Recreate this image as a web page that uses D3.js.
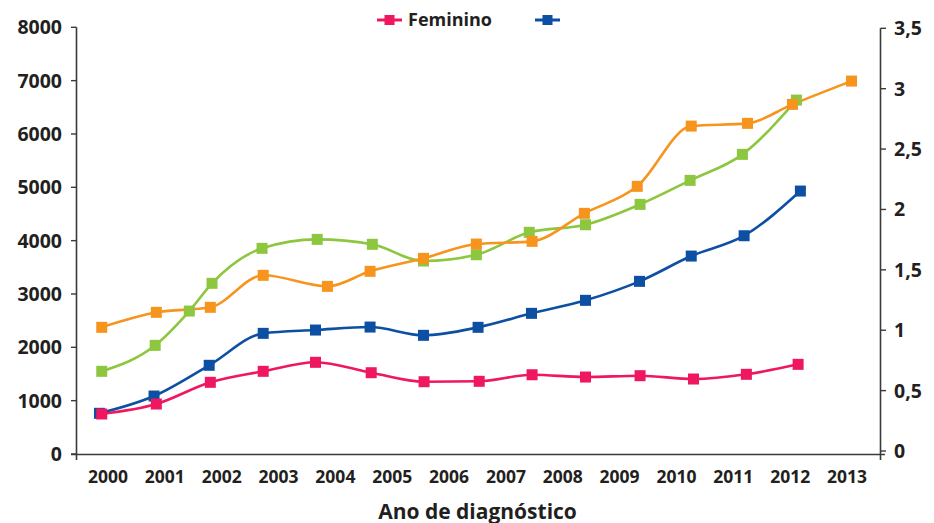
<!DOCTYPE html>
<html><head><meta charset="utf-8">
<script src="https://cdn.jsdelivr.net/npm/d3@7"></script>
<style>
body{margin:0;background:#fff;}
text{font-family:"Open Sans","Noto Sans",sans-serif;font-weight:700;fill:#231f20;}
</style></head>
<body><svg id="c" width="934" height="523"></svg>
<script>
const years = [2000,2001,2002,2003,2004,2005,2006,2007,2008,2009,2010,2011,2012,2013];
const leftTicks = [0,1000,2000,3000,4000,5000,6000,7000,8000];
const rightTicks = [0,0.5,1,1.5,2,2.5,3,3.5];
const rightLabels = ["0","0,5","1","1,5","2","2,5","3","3,5"];
const xTitle = "Ano de diagnóstico";
const legendNames = ["Feminino",""];

// marker positions (fractional year positions as drawn) and values
const orangeX = [1999.89,2000.85,2001.80,2002.73,2003.86,2004.61,2005.55,2006.48,2007.46,2008.38,2009.31,2010.26,2011.25,2012.04,2013.08];
const orangeV = [2375,2656,2750,3350,3143,3425,3668,3936,3987,4512,5018,6148,6199,6555,6992];
const greenX = [1999.89,2000.83,2001.43,2001.83,2002.71,2003.68,2004.65,2005.55,2006.48,2007.41,2008.40,2009.36,2010.24,2011.16,2012.11];
const greenV = [1550,2037,2680,3200,3856,4024,3931,3618,3736,4156,4298,4680,5130,5618,6635];
const blueX = [1999.85,2000.81,2001.78,2002.73,2003.65,2004.61,2005.55,2006.51,2007.45,2008.40,2009.35,2010.26,2011.19,2012.18];
const blueV = [763,1087,1663,2262,2324,2380,2225,2375,2637,2881,3237,3711,4092,4930];
const pinkX = [1999.89,2000.85,2001.80,2002.73,2003.65,2004.63,2005.56,2006.53,2007.46,2008.40,2009.36,2010.30,2011.23,2012.14];
const pinkV = [750,937,1344,1550,1719,1524,1355,1363,1486,1443,1468,1406,1494,1681];

const series = [
  {x: greenX, v: greenV, color: "#8dc63f"},
  {x: orangeX, v: orangeV, color: "#f7941d"},
  {x: blueX, v: blueV, color: "#0d4fa3"},
  {x: pinkX, v: pinkV, color: "#ee1760"}
];

const svg = d3.select("#c");
const x = d3.scaleLinear().domain([2000,2013]).range([108,847]);
const y = d3.scaleLinear().domain([0,8000]).range([454,27.3]);
const yR = d3.scaleLinear().domain([0,3.5]).range([451,28.3]);
const axL = 76.5, axR = 880.5, axB = 454.5;
const axColor = "#3a3a3a";

// axis lines
svg.append("line").attr("x1",axL).attr("x2",axL).attr("y1",y(8000)).attr("y2",460).attr("stroke",axColor).attr("stroke-width",1.6);
svg.append("line").attr("x1",axR).attr("x2",axR).attr("y1",yR(3.5)).attr("y2",460).attr("stroke",axColor).attr("stroke-width",1.6);
svg.append("line").attr("x1",71).attr("x2",885).attr("y1",axB).attr("y2",axB).attr("stroke",axColor).attr("stroke-width",1.6);

// left ticks
const gl = svg.append("g");
leftTicks.forEach(t=>{
  gl.append("line").attr("x1",71).attr("x2",axL).attr("y1",y(t)).attr("y2",y(t)).attr("stroke",axColor).attr("stroke-width",1.4);
  gl.append("text").attr("x",62).attr("y",y(t)).attr("dy","0.36em").attr("text-anchor","end").attr("font-size",19.5).text(t);
});
// right ticks
const gr = svg.append("g");
rightTicks.forEach((t,i)=>{
  gr.append("line").attr("x1",axR).attr("x2",886).attr("y1",yR(t)).attr("y2",yR(t)).attr("stroke",axColor).attr("stroke-width",1.4);
  gr.append("text").attr("x",894).attr("y",yR(t)).attr("dy","0.36em").attr("text-anchor","start").attr("font-size",19.5).text(rightLabels[i]);
});
// x labels
years.forEach(yr=>{
  svg.append("text").attr("x",x(yr)).attr("y",483).attr("text-anchor","middle").attr("font-size",17.5).text(yr);
});
svg.append("text").attr("x",477.5).attr("y",518.5).attr("text-anchor","middle").attr("font-size",21).text(xTitle);

// lines
const line = d3.line().curve(d3.curveMonotoneX);
series.forEach(s=>{
  const pts = s.x.map((xx,i)=>[x(xx), y(s.v[i])]);
  svg.append("path").attr("d",line(pts)).attr("fill","none").attr("stroke",s.color).attr("stroke-width",2.6);
});
const ms = 11;
series.forEach(s=>{
  svg.append("g").selectAll("rect").data(s.x.map((xx,i)=>[x(xx), y(s.v[i])])).join("rect")
    .attr("x",d=>d[0]-ms/2).attr("y",d=>d[1]-ms/2).attr("width",ms).attr("height",ms).attr("fill",s.color);
});

// legend
const legend = [{name:legendNames[0],color:"#ee1760",x0:377},{name:legendNames[1],color:"#0d4fa3",x0:535}];
legend.forEach(l=>{
  svg.append("line").attr("x1",l.x0).attr("x2",l.x0+25).attr("y1",20).attr("y2",20).attr("stroke",l.color).attr("stroke-width",3);
  svg.append("rect").attr("x",l.x0+12.5-5).attr("y",15).attr("width",10).attr("height",10).attr("fill",l.color);
  svg.append("text").attr("x",l.x0+31).attr("y",20).attr("dy","0.36em").attr("font-size",18).text(l.name);
});
</script></body></html>
